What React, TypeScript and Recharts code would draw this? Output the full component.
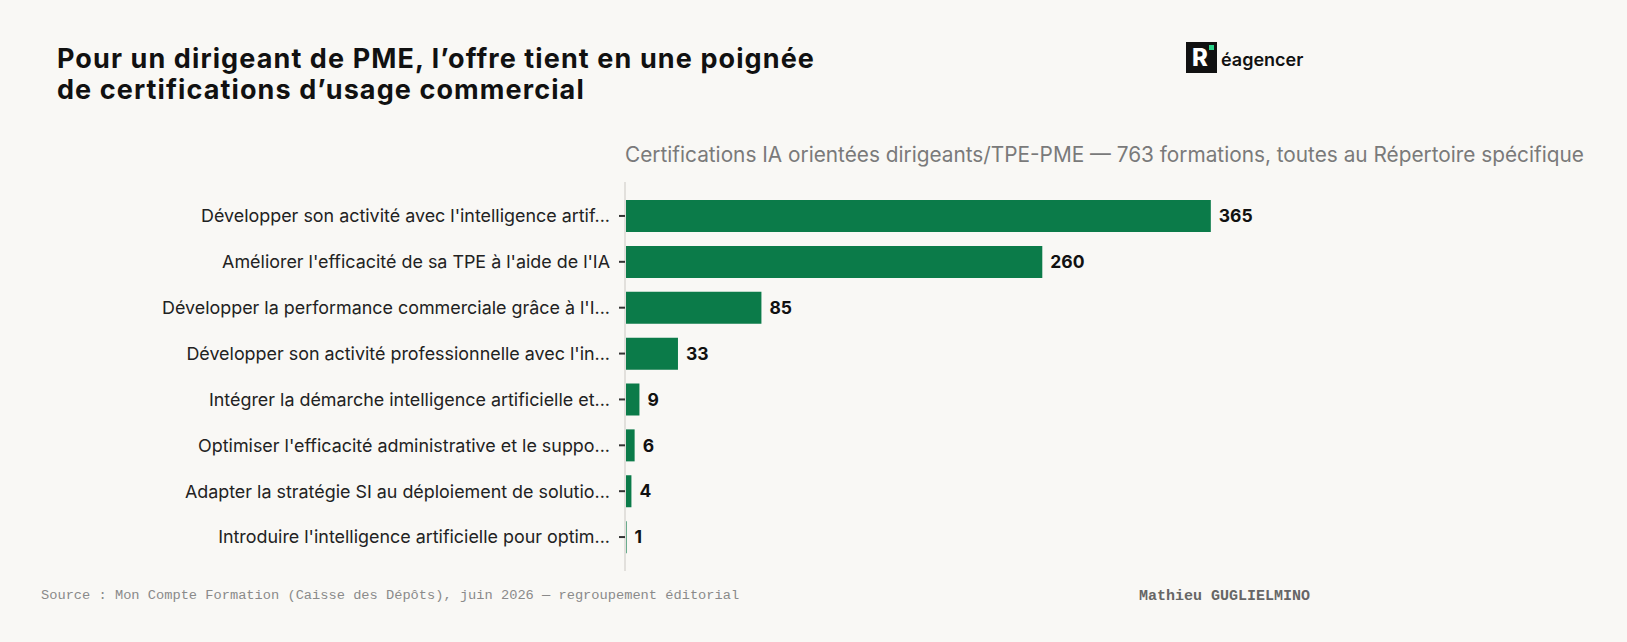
import { BarChart, Bar, XAxis, YAxis, LabelList } from 'recharts'

const categories = [
  "Développer son activité avec l'intelligence artif...",
  "Améliorer l'efficacité de sa TPE à l'aide de l'IA",
  "Développer la performance commerciale grâce à l'I...",
  "Développer son activité professionnelle avec l'in...",
  'Intégrer la démarche intelligence artificielle et...',
  "Optimiser l'efficacité administrative et le suppo...",
  'Adapter la stratégie SI au déploiement de solutio...',
  "Introduire l'intelligence artificielle pour optim...",
]
const counts = [365, 260, 85, 33, 9, 6, 4, 1]

const title = ['Pour un dirigeant de PME, l’offre tient en une poignée', 'de certifications d’usage commercial']
const subtitle = 'Certifications IA orientées dirigeants/TPE-PME — 763 formations, toutes au Répertoire spécifique'
const source = 'Source : Mon Compte Formation (Caisse des Dépôts), juin 2026 — regroupement éditorial'
const author = 'Mathieu GUGLIELMINO'

const BG = '#f9f8f5'
const GREEN = '#0b7b49'

export default function App() {
  const data = categories.map((name, i) => ({ name, value: counts[i] }))
  const titleStyle = { position: 'absolute' as const, left: 57, fontSize: 27, fontWeight: 700, lineHeight: '30px', height: 30, color: '#111', letterSpacing: 1.1, whiteSpace: 'nowrap' as const }

  return (
    <div style={{ position: 'fixed', left: 0, top: 0, width: 1627, height: 642, background: BG, fontFamily: 'Inter, sans-serif', overflow: 'hidden' }}>
      <div style={{ ...titleStyle, top: 44 }}>{title[0]}</div>
      <div style={{ ...titleStyle, top: 75 }}>{title[1]}</div>

      {/* logo */}
      <div style={{ position: 'absolute', left: 1186, top: 42, width: 31, height: 31, background: '#111' }}>
        <span style={{ position: 'absolute', left: 6, top: 1, color: '#fff', fontWeight: 800, fontSize: 24, lineHeight: '30px' }}>R</span>
        <span style={{ position: 'absolute', left: 23, top: 3, width: 5, height: 5, background: '#2bd48a' }} />
      </div>
      <div style={{ position: 'absolute', left: 1221, top: 48, fontSize: 18, fontWeight: 600, color: '#111', lineHeight: '24px' }}>éagencer</div>

      <div style={{ position: 'absolute', left: 625, top: 142, fontSize: 20.8, color: '#7a7a7a', lineHeight: '26px', whiteSpace: 'nowrap' }}>
        {subtitle}
      </div>

      <div style={{ position: 'absolute', left: 0, top: 0 }}>
        <BarChart width={1627} height={642} data={data} layout="vertical" margin={{ top: 182, right: 360, bottom: 71, left: 0 }}>
          <XAxis type="number" domain={[0, 400]} hide />
          <YAxis
            type="category"
            dataKey="name"
            width={625}
            padding={{ top: 11, bottom: 11 }}
            axisLine={{ stroke: '#e2e0dc', strokeWidth: 2 }}
            tickLine={{ stroke: '#333', strokeWidth: 2 }}
            tickSize={6}
            tickMargin={9}
            interval={0}
            tick={{ fill: '#222', fontSize: 17.9, fontFamily: 'Inter, sans-serif' }}
          />
          <Bar dataKey="value" fill={GREEN} barSize={32} isAnimationActive={false}>
            <LabelList dataKey="value" position="right" offset={8} style={{ fill: '#111', fontWeight: 700, fontSize: 17.5, fontFamily: 'Inter, sans-serif' }} />
          </Bar>
        </BarChart>
      </div>

      <div style={{ position: 'absolute', left: 41, top: 588, fontFamily: '"Liberation Mono", monospace', fontSize: 13.7, color: '#8a8a8a', whiteSpace: 'nowrap' }}>
        {source}
      </div>
      <div style={{ position: 'absolute', left: 1139, top: 588, fontFamily: '"Liberation Mono", monospace', fontSize: 15, fontWeight: 700, color: '#666', whiteSpace: 'nowrap' }}>
        {author}
      </div>
    </div>
  )
}
